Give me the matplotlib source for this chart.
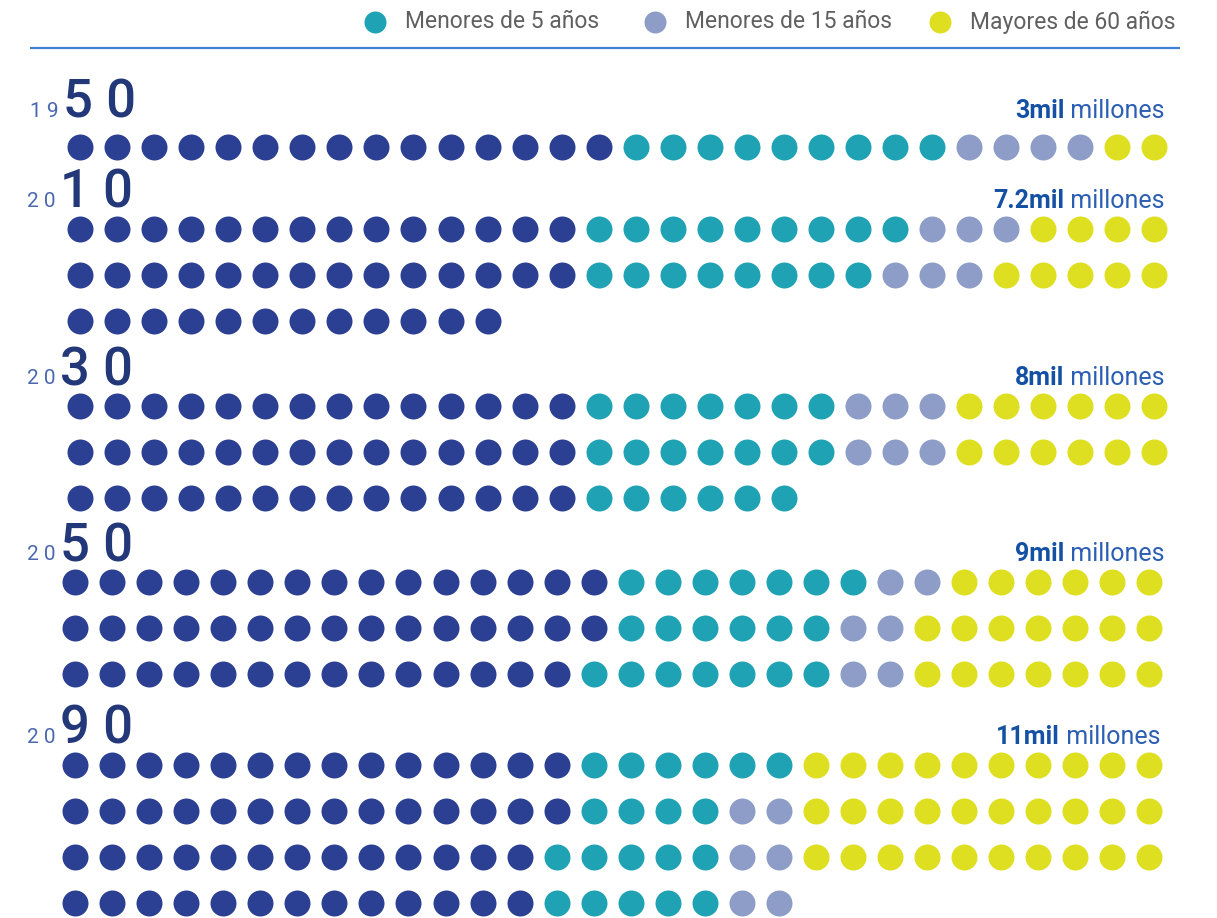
import matplotlib
matplotlib.use("Agg")
import matplotlib.pyplot as plt

# ---- datos: cada punto = 100 millones de personas ----
anio_pref = ["1 9", "2 0", "2 0", "2 0", "2 0"]
anio_suf = ["5 0", "1 0", "3 0", "5 0", "9 0"]
total_bold = ["3mil", "7.2mil", "8mil", "9mil", "11mil"]
# por fila: [resto, menores de 5, menores de 15, mayores de 60]
filas_1950 = [[15, 9, 4, 2]]
filas_2010 = [[14, 9, 3, 4], [14, 8, 3, 5], [12, 0, 0, 0]]
filas_2030 = [[14, 7, 3, 6], [14, 7, 3, 6], [14, 6, 0, 0]]
filas_2050 = [[15, 7, 2, 6], [15, 6, 2, 7], [14, 7, 2, 7]]
filas_2090 = [[14, 6, 0, 10], [14, 4, 2, 10], [13, 5, 2, 10], [13, 5, 2, 0]]
grupos = [filas_1950, filas_2010, filas_2030, filas_2050, filas_2090]
leyenda = ["Menores de 5 años", "Menores de 15 años", "Mayores de 60 años"]

# ---- estilo / layout (pixeles) ----
colores = ["#2b3f93", "#1fa2b3", "#8d9dc8", "#dfdf22"]
FONT = ["Liberation Sans Narrow", "Roboto", "DejaVu Sans"]
W, H = 1217, 918
y_grupo = [147, 229, 406, 582, 765]
x0_grupo = [80, 80, 80, 75, 75]
dx, dy = 37.05, 46
x_der = [1165, 1165, 1165, 1165, 1160]

fig = plt.figure(figsize=(W / 100, H / 100), dpi=100)
ax = fig.add_axes([0, 0, 1, 1])
ax.set_xlim(0, W)
ax.set_ylim(H, 0)
ax.axis("off")

s_dot = (26 * 0.72) ** 2

# leyenda
ley_x = [375, 655, 940]
for i, lab in enumerate(leyenda):
    ax.scatter([ley_x[i]], [22], s=(22 * 0.72) ** 2, color=colores[i + 1], lw=0)
    ax.text(ley_x[i] + 30, 22, lab, fontsize=16.5, color="#606060",
            family=FONT, ha="left", va="center")
ax.plot([30, 1180], [48, 48], color="#3f7fd6", lw=1.6, solid_capstyle="butt")

fig.canvas.draw()
rend = fig.canvas.get_renderer()
inv = ax.transData.inverted()

for g, filas in enumerate(grupos):
    yb = y_grupo[g]
    for r, fila in enumerate(filas):
        y = yb + r * dy
        k = 0
        for c, n in enumerate(fila):
            if n == 0:
                continue
            xs = [x0_grupo[g] + (k + j) * dx for j in range(n)]
            ax.scatter(xs, [y] * n, s=s_dot, color=colores[c], lw=0, zorder=3)
            k += n
    # año
    base = yb - 21 if g > 0 else yb - 29
    t_pref = ax.text(27 if g > 0 else 30, base - 1, anio_pref[g], fontsize=15,
                     color="#4a68b2", family=FONT, ha="left", va="baseline")
    bb = t_pref.get_window_extent(rend)
    xr = inv.transform((bb.x1, bb.y0))[0]
    ax.text(xr + 4, base, anio_suf[g], fontsize=38, color="#233878",
            family=FONT, fontweight="medium", ha="left", va="baseline")
    # total
    t_mill = ax.text(x_der[g], base, " millones", fontsize=18, color="#2c5fb3",
                     family=FONT, ha="right", va="baseline")
    bb = t_mill.get_window_extent(rend)
    xl = inv.transform((bb.x0, bb.y0))[0]
    ax.text(xl, base, total_bold[g], fontsize=18, color="#1450a3",
            family=FONT, fontweight="bold", ha="right", va="baseline")

fig.savefig("out.png", dpi=100)
